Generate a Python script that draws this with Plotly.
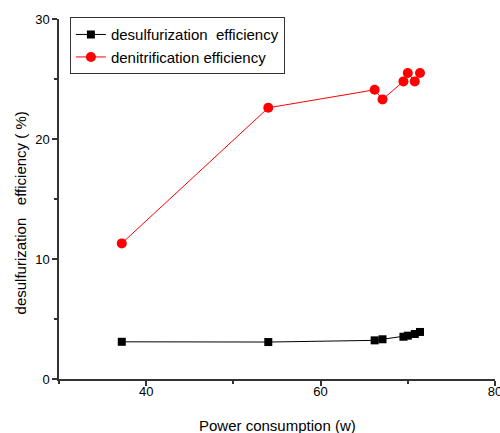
import plotly.graph_objects as go

power = [37.2, 54.0, 66.2, 67.1, 69.5, 70.0, 70.8, 71.4]
desulf = [3.1, 3.08, 3.22, 3.31, 3.52, 3.61, 3.75, 3.92]
denitr = [11.3, 22.6, 24.1, 23.3, 24.8, 25.5, 24.8, 25.5]

x_title = "Power consumption (w)"
y_title = "desulfurization\u00a0\u00a0 efficiency (\u00a0%)"

font_family = "Liberation Sans, Arial, sans-serif"

fig = go.Figure()
fig.add_trace(go.Scatter(
    x=power, y=desulf, mode="lines+markers",
    name="desulfurization\u00a0 efficiency",
    line=dict(color="black", width=1),
    marker=dict(symbol="square", size=8, color="black"),
))
fig.add_trace(go.Scatter(
    x=power, y=denitr, mode="lines+markers",
    name="denitrification efficiency",
    line=dict(color="#ff0000", width=1),
    marker=dict(symbol="circle", size=10, color="#ff0000"),
))

axis_common = dict(
    showgrid=False, zeroline=False,
    showline=True, linecolor="#333333", linewidth=1.5,
    ticks="outside", ticklen=5, tickcolor="#333333", tickwidth=1.5,
    tickfont=dict(size=13), automargin=False,
)

fig.update_layout(
    width=500, height=433,
    margin=dict(l=59, r=5, t=19, b=54),
    plot_bgcolor="white", paper_bgcolor="white",
    font=dict(family=font_family, size=13, color="black"),
    showlegend=True,
    legend=dict(
        x=0.025, y=1.005, xanchor="left", yanchor="top",
        bordercolor="#333333", borderwidth=1, bgcolor="white",
        font=dict(size=15, family=font_family),
        tracegroupgap=0, itemwidth=30,
    ),
    xaxis=dict(
        range=[30, 80], tick0=0, dtick=20,
        minor=dict(ticks="outside", dtick=10, ticklen=3, tickcolor="#333333", tickwidth=1.5, showgrid=False),
        ticklabeloverflow="allow", ticklabelstandoff=-5,
        **axis_common,
    ),
    yaxis=dict(
        range=[0, 30], tick0=0, dtick=10,
        minor=dict(ticks="outside", dtick=5, ticklen=3, tickcolor="#333333", tickwidth=1.5, showgrid=False),
        **axis_common,
    ),
    annotations=[
        dict(text=x_title, xref="paper", yref="paper", x=0.5, y=-0.128,
             xanchor="center", yanchor="middle", showarrow=False,
             font=dict(size=15, family=font_family)),
        dict(text=y_title, xref="paper", yref="paper", x=-0.0894, y=0.46,
             xanchor="center", yanchor="middle", showarrow=False, textangle=-90,
             font=dict(size=15, family=font_family)),
    ],
)

fig.write_html("out.html")
